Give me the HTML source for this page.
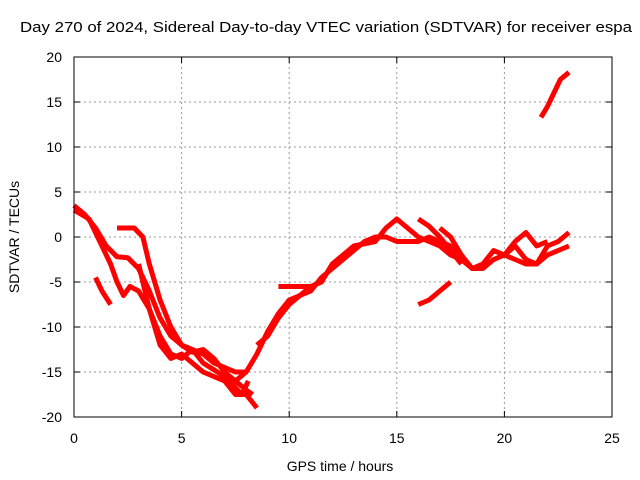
<!DOCTYPE html>
<html><head><meta charset="utf-8"><style>
body{margin:0;background:#fff;}
svg{display:block;font-family:"Liberation Sans",sans-serif;font-size:14px;}
</style></head><body>
<svg id="chart" width="640" height="480" viewBox="0 0 640 480">
<text x="20" y="32" textLength="612" lengthAdjust="spacingAndGlyphs" font-size="15">Day 270 of 2024, Sidereal Day-to-day VTEC variation (SDTVAR) for receiver espa</text>
<text x="340" y="471" text-anchor="middle">GPS time / hours</text>
<text transform="translate(19,237) rotate(-90)" text-anchor="middle">SDTVAR / TECUs</text>
<g id="grid"></g><g id="series"></g>
<rect x="74" y="57" width="538" height="360" fill="none" stroke="#000" stroke-width="1"/>
</svg>
<script>
const xTicks=[0,5,10,15,20,25];
const yTicks=[-20,-15,-10,-5,0,5,10,15,20];
const seriesA=[[0,3.5],[0.5,2.5],[1,1],[1.5,-1],[2,-2.2],[2.5,-2.3],[3,-3.5],[3.5,-6],[4,-9],[4.5,-11],[5,-12],[5.5,-12.8],[6,-12.5],[6.5,-13.5],[7,-15],[7.5,-16],[8,-17],[8.3,-17.5]];
const seriesB=[[0,3],[0.7,2],[1.2,-0.5],[1.7,-3],[2,-5],[2.3,-6.5],[2.6,-5.5],[3,-6],[3.5,-8],[4,-11],[4.5,-13],[5,-13.5],[5.5,-12.5],[6,-13],[6.5,-14],[7,-14.5],[7.5,-15],[8,-15]];
const seriesC=[[2,1],[2.8,1],[3.2,0],[3.5,-3],[4,-7],[4.5,-10],[5,-12],[5.5,-12.5],[6,-14],[7,-15.5],[7.8,-17.5],[8.1,-16]];
const seriesD=[[3,-3],[3.5,-8],[4,-12],[4.5,-13.5],[5,-13],[5.5,-14],[6,-15],[6.5,-15.5],[7,-16],[7.5,-17.5],[8,-17.5],[8.5,-19]];
const seriesE=[[8.5,-12],[9,-11],[9.5,-9],[10,-7.5],[10.5,-6.5],[11,-5.5],[11.5,-5],[12,-3],[12.5,-2],[13,-1],[14,-0.5],[14.5,1],[15,2],[15.5,1],[16,0],[16.5,-0.5],[17,-1],[17.5,-2],[18,-2.5],[18.5,-3.5],[19,-3.5],[19.5,-2.5],[20,-2],[20.5,-1],[21,-2.5],[21.5,-3],[22,-2],[22.5,-1.5],[23,-1]];
const seriesF=[[7.5,-16],[8,-15],[8.5,-13],[9,-10.5],[9.5,-8.5],[10,-7],[11,-6],[11.5,-4.5],[12,-3.5],[13,-1.5],[13.5,-0.5],[14,0],[14.5,0],[15,-0.5],[15.5,-0.5],[16,-0.5],[16.5,0],[17,-0.5],[17.5,-1],[18,-2],[18.5,-3.5],[19,-3],[19.5,-1.5],[20,-2],[20.5,-2.5],[21,-3],[21.5,-3],[22,-1],[22.5,-0.5],[23,0.5]];
const seriesG=[[16,2],[16.5,1.2],[17,0],[17.5,-1.5],[18,-3]];
const seriesH=[[17,1],[17.5,0],[18,-2]];
const seriesI=[[20,-2],[20.5,-0.5],[21,0.5],[21.5,-1],[22,-0.5]];
const seriesJ=[[16,-7.5],[16.5,-7],[17,-6],[17.5,-5]];
const seriesK=[[9.5,-5.5],[10,-5.5],[10.5,-5.5],[11,-5.5],[11.5,-5]];
const seriesL=[[21.7,13.3],[22,14.5],[22.3,16],[22.6,17.5],[23,18.3]];
const seriesM=[[1,-4.5],[1.3,-6],[1.7,-7.5]];
const allSeries=[seriesA,seriesB,seriesC,seriesD,seriesE,seriesF,seriesG,seriesH,seriesI,seriesJ,seriesK,seriesL,seriesM];
const NS="http://www.w3.org/2000/svg";
function xs(h){return 74+h*(538/25);}
function ys(v){return 237-v*9;}
const grid=document.getElementById('grid');
xTicks.forEach(t=>{
 const x=xs(t);
 if(t>0&&t<25){const l=document.createElementNS(NS,'line');
 
 
 l.setAttribute('x1',x);l.setAttribute('x2',x);l.setAttribute('y1',57);l.setAttribute('y2',417);
 l.setAttribute('stroke','#999');l.setAttribute('stroke-dasharray','2,3');grid.appendChild(l);}
 const tk=document.createElementNS(NS,'path');
 
 
 tk.setAttribute('d',`M${x},417v-6M${x},57v6`);tk.setAttribute('stroke','#000');grid.appendChild(tk);
 const tx=document.createElementNS(NS,'text');
 
 
 tx.setAttribute('x',x);tx.setAttribute('y',443);tx.setAttribute('text-anchor','middle');tx.textContent=t;grid.appendChild(tx);
});
yTicks.forEach(t=>{
 const y=ys(t);
 if(t>-20&&t<20){const l=document.createElementNS(NS,'line');
 
 
 l.setAttribute('x1',74);l.setAttribute('x2',612);l.setAttribute('y1',y);l.setAttribute('y2',y);
 l.setAttribute('stroke','#999');l.setAttribute('stroke-dasharray','2,3');grid.appendChild(l);}
 const tk=document.createElementNS(NS,'path');
 
 
 tk.setAttribute('d',`M74,${y}h6M612,${y}h-6`);tk.setAttribute('stroke','#000');grid.appendChild(tk);
 const tx=document.createElementNS(NS,'text');
 
 
 tx.setAttribute('x',62);tx.setAttribute('y',y+5);tx.setAttribute('text-anchor','end');tx.textContent=t;grid.appendChild(tx);
});
const sg=document.getElementById('series');
allSeries.forEach(s=>{
 const p=document.createElementNS(NS,'polyline');
 
 
 p.setAttribute('points',s.map(d=>xs(d[0])+','+ys(d[1])).join(' '));
 p.setAttribute('fill','none');p.setAttribute('stroke','#f00');p.setAttribute('stroke-width','5');
 p.setAttribute('stroke-linejoin','round');
 sg.appendChild(p);
});
</script>
</body></html>
